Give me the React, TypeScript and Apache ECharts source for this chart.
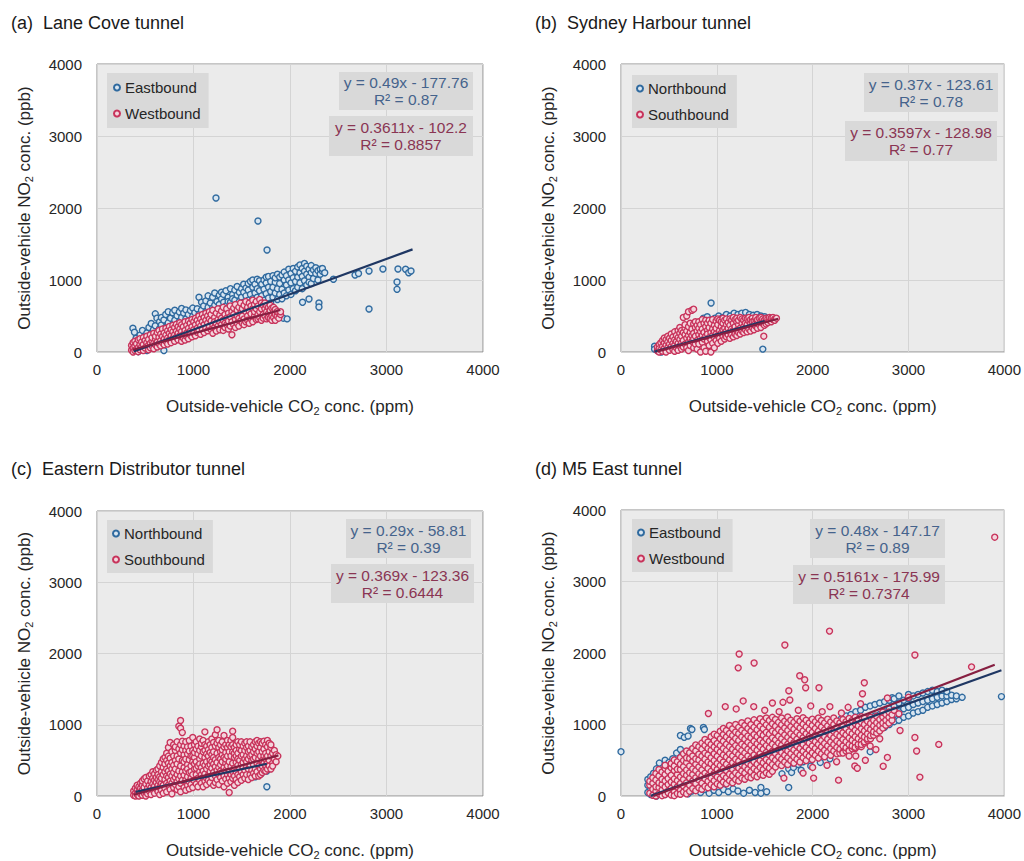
import React, { useEffect, useRef } from "react";
import * as echarts from "echarts";

const FONT = '"Liberation Sans", Arial, Helvetica, sans-serif';

// ---------- DATA : each row = [CO2 (ppm), NO2 (ppb), NO2 (ppb), ...] ----------
// (a) Lane Cove tunnel
const laneCoveEast: number[][] = [
  [372, 330, 25], [388, 275, 110], [405, 45, 190], [428, 140, 5], [446, 235, 70],
  [471, 160, 300, 35], [493, 95, 215], [517, 265, 140, 20], [538, 190, 340], [562, 110, 255, 395],
  [585, 60, 210, 310], [604, 530, 170, 365], [621, 470, 240, 95], [648, 325, 150, 420], [667, 205, 375, 480],
  [693, 270, 130, 445, 20], [712, 345, 520, 205], [738, 255, 405, 560], [761, 310, 470, 180], [784, 375, 245, 545],
  [806, 440, 300, 580], [829, 355, 505, 240], [853, 420, 290, 555], [877, 480, 345, 605], [898, 395, 540, 270],
  [921, 460, 330, 585], [946, 520, 380, 300], [968, 430, 575, 350], [992, 495, 610, 380], [1014, 545, 410, 330],
  [1038, 465, 600, 360], [1057, 760, 520, 420], [1083, 580, 455, 690], [1105, 640, 395, 520], [1128, 560, 710, 430],
  [1151, 620, 780, 470], [1174, 540, 680, 410], [1198, 760, 610, 480], [1220, 820, 650, 520], [1243, 700, 575, 440],
  [1267, 790, 660, 505], [1290, 735, 610, 830], [1312, 560, 690, 800], [1336, 640, 850, 510], [1359, 760, 590, 700],
  [1383, 880, 690, 540], [1405, 800, 610, 740], [1428, 720, 860, 580], [1452, 910, 650, 790], [1475, 830, 700, 560],
  [1498, 760, 880, 620], [1520, 940, 690, 830], [1544, 610, 780, 890], [1567, 860, 720, 950], [1590, 660, 800, 980],
  [1614, 900, 740, 1000], [1637, 820, 680, 940], [1660, 1010, 760, 880], [1684, 700, 850, 990], [1707, 940, 780, 640],
  [1730, 1000, 870, 720], [1753, 810, 960, 1040], [1777, 900, 750, 1050], [1800, 980, 680, 840], [1823, 1060, 900, 760],
  [1847, 820, 970, 1030], [1870, 1080, 880, 730], [1893, 950, 800, 1040], [1917, 1070, 870, 740], [1940, 1000, 820, 1110],
  [1963, 930, 780, 1060], [1987, 1150, 860, 1000], [2010, 960, 1090, 800], [2033, 1160, 880, 1030], [2057, 980, 1120, 850],
  [2080, 1180, 1040, 900], [2103, 960, 1100, 1210], [2127, 1050, 880, 1160], [2150, 1230, 990, 1120], [2173, 930, 1080, 1190],
  [2197, 1040, 1150, 970], [2220, 1100, 1200, 950], [2243, 1020, 1140], [2267, 1090, 1170], [2290, 1000, 1130],
  [2313, 1150, 1080], [2336, 1120, 1160], [2360, 1100],
  [1233, 2139], [1668, 1819], [1762, 1417], [2450, 1010], [2674, 1069], [2710, 1090], [2819, 1125], [2963, 1153],
  [3119, 1153], [3198, 1150], [3230, 1100], [3254, 1125], [3109, 972], [3109, 870], [2819, 597],
  [2300, 680], [2300, 625], [2197, 736], [2130, 690], [1930, 470], [1970, 460], [1900, 520],
];
const laneCoveWest: number[][] = [
  [358, 25, 90], [374, 130, 55, 0], [392, 80, 150, 20], [409, 40, 115], [427, 170, 60, 5],
  [445, 100, 30, 185], [462, 140, 70], [480, 20, 105, 200], [498, 160, 55], [516, 85, 220, 130],
  [534, 30, 175, 95], [552, 240, 120, 60], [570, 150, 200, 85], [588, 45, 260, 120], [606, 180, 100, 220],
  [624, 270, 70, 140], [642, 205, 115, 300], [660, 160, 250, 85], [678, 320, 130, 215], [696, 100, 265, 180],
  [714, 235, 150, 330], [732, 295, 110, 195], [750, 355, 170, 260], [768, 130, 225, 310], [786, 280, 190, 370],
  [804, 150, 340, 240], [822, 385, 205, 290], [840, 170, 260, 350], [858, 320, 225, 405], [876, 150, 285, 380],
  [894, 240, 350, 195], [912, 420, 300, 165], [930, 265, 370, 215], [948, 330, 185, 430], [966, 290, 400, 240],
  [984, 210, 350, 450], [1002, 310, 420, 260], [1020, 380, 225, 470], [1038, 330, 275, 440], [1056, 400, 300, 500],
  [1074, 245, 360, 460], [1092, 420, 310, 520], [1110, 270, 380, 480], [1128, 440, 330, 540], [1146, 295, 400, 500],
  [1164, 360, 560, 460], [1182, 310, 430, 520], [1200, 380, 260, 580], [1218, 480, 340, 420], [1236, 540, 290, 400],
  [1254, 450, 360, 600], [1272, 310, 510, 420], [1290, 570, 380, 470], [1308, 300, 440, 620], [1326, 520, 400, 340],
  [1344, 470, 600, 380], [1362, 320, 540, 430], [1380, 640, 490, 360], [1398, 240, 420, 560], [1416, 520, 610, 380],
  [1434, 450, 340, 660], [1452, 580, 400, 500], [1470, 620, 360, 470], [1488, 540, 680, 430], [1506, 400, 600, 500],
  [1524, 650, 460, 380], [1542, 560, 420, 700], [1560, 500, 620, 440], [1578, 680, 400, 570], [1596, 460, 530, 640],
  [1614, 720, 420, 600], [1632, 500, 660, 560], [1650, 450, 700, 600], [1668, 640, 520, 460], [1686, 560, 730, 480],
  [1704, 680, 600, 440], [1722, 520, 650, 470], [1740, 600, 680, 500], [1758, 460, 560, 640], [1776, 620, 530, 480],
  [1794, 580, 650, 470], [1812, 500, 610, 440], [1830, 560, 620, 480], [1848, 440, 520, 590], [1866, 500, 560],
  [1884, 470, 540], [1902, 520, 560],
];

// (b) Sydney Harbour tunnel
const harbourNorth: number[][] = [
  [350, 80, 40], [380, 20, 60], [420, 0, 100], [460, 30, 140], [500, 70, 180], [540, 40, 120, 220], [580, 90, 200],
  [620, 60, 150, 260], [660, 110, 230], [700, 80, 190, 300], [740, 140, 260], [780, 110, 220, 340],
  [820, 170, 290, 400], [860, 140, 250, 470], [900, 200, 320, 490], [940, 680, 240, 360, 440], [980, 220, 340, 470],
  [1020, 260, 380, 500], [1060, 240, 360, 480], [1100, 280, 400, 520], [1140, 260, 380, 500], [1180, 300, 420, 540],
  [1220, 280, 400, 520], [1260, 320, 440, 540], [1300, 300, 420, 550], [1340, 340, 460, 520], [1380, 320, 440, 510],
  [1420, 360, 470, 520], [1460, 380, 480, 500], [1480, 40], [1500, 420, 490],
];
const harbourSouth: number[][] = [
  [380, 15, 70], [398, 0, 100, 45], [416, 30, 130], [434, 80, 10, 160], [452, 50, 125, 195],
  [470, 0, 170, 95], [488, 60, 140, 220], [506, 25, 190, 110], [524, 250, 75, 160], [542, 35, 210, 120],
  [560, 280, 95, 170, 10], [578, 230, 60, 145], [596, 300, 120, 200, 25], [614, 175, 260, 85, 340],
  [632, 40, 220, 130, 300], [650, 480, 160, 270, 70], [668, 330, 110, 240, 380], [686, 500, 190, 60, 290],
  [704, 560, 140, 350, 230, 20], [722, 400, 90, 270, 185], [740, 580, 320, 150, 230], [758, 595, 60, 260, 390, 180],
  [776, 110, 340, 220, 420], [794, 290, 160, 370, 40], [812, 420, 240, 110, 330], [830, 0, 190, 380, 280],
  [848, 450, 135, 320, 230], [866, 60, 270, 400, 180], [884, 350, 220, 440, 10], [902, 150, 300, 400, 250],
  [920, 440, 90, 340, 200], [938, 270, 400, 0, 170], [956, 120, 320, 450, 230], [974, 370, 200, 280, 60],
  [992, 430, 160, 330, 250], [1010, 230, 380, 120, 460], [1028, 300, 440, 190], [1046, 150, 350, 260, 420],
  [1064, 400, 220, 310, 470], [1082, 180, 330, 440, 260], [1100, 380, 290, 460, 210], [1118, 240, 410, 330],
  [1136, 460, 280, 190, 370], [1154, 320, 440, 240], [1172, 400, 300, 480, 210], [1190, 350, 250, 450],
  [1208, 420, 300, 470, 230], [1226, 270, 380, 440], [1244, 480, 330, 250], [1262, 400, 290, 460],
  [1280, 350, 440, 270], [1298, 470, 310, 400], [1316, 380, 280, 460], [1334, 320, 430, 480], [1352, 400, 290, 450],
  [1370, 470, 340, 420], [1388, 310, 430, 380], [1406, 460, 360, 480], [1424, 400, 330, 450], [1442, 470, 380],
  [1460, 340, 430, 480], [1478, 400, 460], [1490, 220], [1496, 370, 440], [1514, 430, 470, 390], [1532, 460, 410],
  [1550, 440, 480], [1568, 420, 470], [1586, 450, 480], [1604, 460, 440], [1622, 470],
];

// (c) Eastern Distributor tunnel
const distributorNorth: number[][] = [
  [400, 20, 80], [450, 50, 120], [500, 30, 100, 180], [550, 250, 80, 160], [600, 60, 140, 220], [650, 100, 180, 280],
  [690, 470, 430, 120, 220], [740, 150, 260], [800, 130, 240, 340], [860, 170, 280], [920, 150, 260, 360],
  [980, 190, 300], [1040, 170, 280, 380], [1100, 210, 320], [1160, 190, 300, 400], [1220, 230, 340],
  [1280, 210, 320, 420], [1340, 250, 360], [1400, 230, 340, 440], [1460, 270, 380], [1520, 250, 360, 460],
  [1580, 290, 400], [1640, 270, 380, 470], [1700, 310, 420], [1760, 130, 350],
];
const distributorSouth: number[][] = [
  [380, 10, 70], [398, 40, 110, 0], [416, 90, 20, 150], [434, 60, 130, 0], [452, 180, 30, 110],
  [470, 80, 150, 210, 10], [488, 40, 120, 240], [506, 170, 60, 260, 0], [524, 110, 210, 30], [542, 280, 150, 70],
  [560, 20, 200, 120, 300], [578, 250, 90, 170, 340], [596, 40, 140, 310, 220], [614, 360, 100, 260, 190],
  [632, 60, 230, 150, 380, 300], [650, 120, 420, 270, 200, 20], [668, 340, 80, 180, 470, 250],
  [686, 520, 150, 300, 400, 40], [704, 230, 110, 450, 340, 540], [722, 60, 380, 180, 280, 500, 600],
  [740, 260, 150, 460, 350, 560, 680], [758, 90, 420, 210, 310, 530, 750], [776, 620, 180, 380, 280, 470, 30],
  [794, 720, 120, 330, 230, 430, 560], [812, 260, 640, 160, 500, 380, 690], [830, 90, 450, 300, 560, 200, 760],
  [848, 980, 350, 130, 660, 240, 520], [866, 1060, 950, 420, 280, 600, 180, 720, 60], [884, 890, 340, 500, 220, 650, 770],
  [902, 120, 580, 400, 290, 700, 480], [920, 760, 220, 520, 350, 640, 80], [938, 440, 150, 590, 270, 690, 380],
  [956, 330, 630, 200, 510, 780, 100], [974, 560, 250, 420, 700, 160, 340], [992, 640, 300, 480, 120, 820, 560],
  [1010, 380, 720, 210, 540, 450, 610], [1028, 170, 480, 660, 300, 760, 390], [1046, 590, 250, 420, 700, 130],
  [1064, 340, 520, 800, 450, 220, 640], [1082, 690, 180, 400, 560, 300, 740], [1100, 460, 620, 260, 350, 780, 130],
  [1118, 540, 310, 720, 210, 430, 640, 900], [1136, 380, 590, 250, 480, 700, 160], [1154, 650, 290, 420, 560, 760, 220],
  [1172, 340, 500, 190, 720, 610, 440], [1190, 580, 260, 390, 800, 480, 680], [1208, 150, 450, 620, 330, 750, 540],
  [1226, 700, 280, 510, 410, 860, 190], [1244, 930, 360, 600, 230, 470, 740], [1262, 540, 160, 680, 400, 300, 780],
  [1280, 440, 620, 260, 720, 350, 520], [1298, 210, 580, 480, 760, 330, 650], [1316, 850, 400, 280, 540, 690, 130],
  [1334, 610, 360, 460, 240, 720, 520], [1352, 300, 560, 680, 420, 180, 780], [1370, 50, 480, 340, 620, 720, 250],
  [1388, 560, 410, 300, 690, 200, 780], [1406, 910, 820, 460, 620, 340, 250, 720], [1424, 150, 540, 390, 680, 280, 600],
  [1442, 470, 720, 340, 560, 230, 640], [1460, 600, 300, 430, 760, 520, 190], [1478, 380, 660, 270, 500, 720],
  [1496, 560, 220, 440, 640, 340, 760], [1514, 470, 300, 700, 580, 400], [1532, 640, 250, 520, 360, 740],
  [1550, 420, 680, 300, 560, 480, 760], [1568, 230, 620, 380, 700, 520], [1586, 560, 300, 440, 760, 640],
  [1604, 360, 500, 690, 260, 580], [1622, 720, 440, 620, 320, 520], [1640, 540, 380, 760, 280, 660],
  [1658, 460, 700, 340, 600, 780], [1676, 620, 280, 520, 420, 740], [1694, 380, 680, 560, 300, 760],
  [1712, 500, 740, 420, 620, 330], [1730, 660, 360, 560, 770, 460], [1748, 430, 600, 720, 350, 520],
  [1766, 560, 380, 690, 780, 460], [1784, 740, 500, 620, 420], [1802, 380, 680, 560, 720], [1820, 460, 420, 600],
  [1838, 520, 640], [1856, 480, 580], [1874, 560],
];

// (d) M5 East tunnel
const m5East: number[][] = [
  [0, 620], [280, 50, 150, 230], [310, 20, 100, 270], [340, 60, 180, 320], [370, 0, 120, 240, 380],
  [400, 40, 160, 300, 460], [430, 80, 200, 350], [460, 20, 140, 260, 410, 500], [500, 60, 180, 320, 470],
  [540, 100, 230, 370, 520], [580, 40, 160, 290, 430, 600], [620, 80, 210, 350, 490, 650, 847],
  [660, 120, 250, 400, 550, 820], [700, 30, 160, 300, 450, 600, 840], [725, 944], [740, 70, 200, 340, 490, 650, 930],
  [780, 110, 250, 390, 540, 700], [830, 50, 180, 320, 460, 620], [860, 958], [870, 90, 230, 380, 520, 930],
  [920, 40, 140, 280, 430, 580], [970, 80, 190, 330, 480], [1020, 50, 240, 380, 530, 780], [1070, 90, 200, 340, 490],
  [1120, 60, 250, 400, 550], [1170, 100, 300, 450, 600], [1220, 70, 260, 410], [1280, 40, 320, 470, 640],
  [1340, 80, 360, 520], [1400, 50, 400, 560], [1460, 40, 120, 440, 600], [1520, 60, 480, 640, 960],
  [1580, 520, 680, 980], [1640, 560, 720, 1000], [1680, 310, 450], [1700, 600, 760, 1020], [1750, 120, 380, 640, 800],
  [1780, 330, 520], [1800, 400, 460, 680, 840], [1850, 440, 520, 720], [1880, 360, 600], [1900, 480, 560, 760],
  [1950, 520, 600, 800], [1980, 420, 700], [2000, 540, 640, 840], [2050, 560, 680, 880], [2080, 470, 610],
  [2100, 580, 720, 920], [2150, 600, 760, 960], [2180, 520, 650], [2200, 620, 800, 1000],
  [2250, 700, 840, 1040], [2300, 740, 880, 1080], [2350, 780, 920, 1120], [2400, 820, 960, 1140],
  [2450, 860, 1000, 1180], [2500, 880, 1040, 1200], [2550, 920, 1080, 1240], [2600, 620, 960, 1100, 1260],
  [2650, 980, 1120, 1280], [2700, 1000, 1140, 1300], [2750, 960, 1060, 1180, 1320], [2800, 1000, 1100, 1220, 1340],
  [2830, 1375], [2850, 1040, 1140, 1260, 1360], [2900, 1060, 1180, 1300, 1400], [2950, 1100, 1220, 1340],
  [3000, 1120, 1240, 1360, 1420], [3050, 1160, 1280, 1400], [3100, 1180, 1300, 1420], [3150, 1200, 1320, 1440],
  [3200, 1240, 1340, 1460], [3250, 1260, 1360, 1480], [3300, 1280, 1380, 1460], [3350, 1300, 1400, 1480],
  [3400, 1320, 1400, 1460], [3450, 1350, 1410], [3500, 1360, 1400], [3560, 1380], [3970, 1390],
];
const m5West: number[][] = [
  [300, 40, 150, 205], [332, 10, 95, 180, 255], [364, 65, 0, 130, 225, 315], [396, 30, 120, 185, 280, 370],
  [428, 85, 5, 160, 235, 335], [460, 20, 125, 210, 300, 385, 430], [492, 70, 160, 45, 245, 345],
  [524, 110, 195, 15, 290, 395, 455], [556, 55, 165, 240, 355, 420, 505, 5], [588, 125, 215, 35, 300, 375, 480],
  [620, 80, 175, 265, 370, 445, 540, 25], [652, 140, 230, 55, 315, 410, 495, 590],
  [684, 95, 185, 290, 365, 470, 535, 30, 630], [716, 150, 250, 325, 65, 420, 525, 605],
  [748, 105, 210, 300, 380, 485, 560, 665], [780, 175, 255, 355, 75, 445, 520, 630, 715],
  [812, 115, 225, 310, 405, 505, 585, 690], [844, 180, 280, 95, 365, 460, 555, 655, 740],
  [876, 135, 240, 320, 425, 515, 600, 705, 790], [908, 205, 285, 385, 115, 475, 575, 665, 755],
  [940, 160, 250, 345, 450, 535, 640, 720, 830], [972, 215, 315, 405, 130, 495, 590, 685, 775, 865],
  [1004, 170, 265, 370, 455, 555, 650, 735, 845], [1036, 240, 335, 150, 425, 515, 615, 705, 800, 905],
  [1068, 195, 285, 385, 475, 575, 665, 765, 860, 945], [1100, 255, 355, 170, 445, 545, 635, 725, 825, 915],
  [1132, 215, 305, 400, 505, 590, 690, 785, 875, 985], [1164, 280, 375, 185, 465, 560, 655, 755, 845, 940],
  [1196, 230, 325, 425, 515, 615, 705, 805, 895, 1000], [1228, 295, 390, 210, 485, 580, 675, 775, 870, 960],
  [1260, 250, 350, 440, 545, 635, 725, 825, 920, 1025], [1292, 320, 410, 235, 505, 600, 695, 795, 885, 985],
  [1324, 270, 370, 460, 560, 655, 750, 840, 945, 1050], [1356, 340, 430, 255, 525, 625, 715, 815, 905, 1000],
  [1388, 290, 385, 480, 575, 670, 765, 860, 960, 1065], [1420, 355, 445, 270, 540, 640, 730, 830, 925, 1020],
  [1452, 305, 400, 495, 590, 690, 780, 875, 975, 1080], [1484, 370, 465, 290, 560, 655, 750, 850, 940, 1040],
  [1516, 325, 420, 510, 610, 705, 800, 890, 995, 1090], [1548, 390, 480, 305, 575, 675, 765, 865, 960, 1055],
  [1580, 345, 440, 535, 625, 725, 815, 910, 1010, 1100], [1612, 405, 500, 595, 690, 785, 885, 975, 1070],
  [1644, 455, 550, 645, 740, 835, 930, 1030], [1676, 425, 515, 610, 710, 800, 900, 995, 1090],
  [1708, 475, 570, 665, 760, 855, 950, 1045], [1740, 440, 535, 630, 725, 820, 915, 1015, 1105],
  [1772, 495, 590, 680, 780, 870, 970, 1060], [1804, 460, 550, 645, 745, 840, 935, 1030],
  [1836, 515, 605, 700, 795, 890, 985, 1080], [1868, 475, 570, 665, 760, 855, 950, 1045],
  [1900, 535, 625, 720, 815, 910, 1005, 1095], [1932, 495, 585, 680, 780, 870, 965, 1060],
  [1964, 555, 645, 740, 835, 925, 1020], [1996, 510, 605, 700, 795, 890, 985, 1075],
  [2028, 570, 665, 760, 850, 945, 1040], [2060, 530, 625, 720, 815, 905, 1000, 1090],
  [2092, 590, 685, 775, 870, 965, 1055], [2124, 550, 640, 735, 830, 925, 1020],
  [2156, 610, 700, 795, 890, 980, 1075], [2188, 570, 660, 755, 850, 940, 1035],
  [2220, 630, 720, 815, 905, 1000, 1090], [2252, 590, 680, 770, 865, 960, 1050],
  [2284, 600, 655, 740, 835, 925, 1020], [2316, 615, 700, 600, 790, 885, 975, 1070],
  [2348, 630, 675, 760, 855, 945, 1040], [2380, 640, 720, 630, 810, 900, 995, 1085],
  [2412, 660, 700, 780, 870, 965, 1055], [2444, 665, 745, 680, 830, 920, 1010, 1100],
  [2476, 700, 725, 800, 890, 980, 1070], [2508, 690, 765, 720, 850, 940, 1030, 1110],
  [2540, 740, 760, 825, 910, 1000, 1090], [2572, 780, 800, 870, 955, 1045], [2604, 800, 845, 930, 1015, 1100],
  [2636, 850, 900, 980, 1060], [2668, 880, 945, 1025, 1115], [2700, 910, 990, 1070], [2732, 950, 1020, 1105, 1170],
  [2764, 990, 1060, 1140], [2796, 1020, 1100, 1175], [2828, 1060, 1135],
  [912, 1153], [1088, 1250], [1202, 1218], [1223, 1792], [1233, 1986], [1275, 1330], [1385, 1250], [1389, 1861],
  [1500, 1200], [1580, 1300], [1650, 1180], [1690, 1310], [1700, 250], [1710, 2111], [1751, 1472], [1762, 1342],
  [1850, 1200], [1865, 1681], [1900, 320], [1917, 1625], [1927, 1514], [1980, 1260], [2000, 400], [2010, 250],
  [2066, 1514], [2100, 1180], [2150, 430], [2176, 2306], [2180, 1250], [2250, 480], [2270, 222], [2300, 1160],
  [2370, 1240], [2380, 560], [2440, 420], [2450, 560], [2466, 389], [2500, 1290], [2520, 1430], [2539, 1583],
  [2550, 500], [2600, 700], [2660, 650], [2700, 800], [2736, 417], [2780, 540], [2780, 1370], [2850, 1200],
  [2900, 1150], [2912, 917], [3000, 1380], [3067, 819, 1972], [3085, 630], [3119, 264], [3316, 722],
  [3658, 1806], [3900, 3620],
];

// trend-line end points (x, y)
const laneCoveEastTrend = [[380, 8], [3270, 1425]];
const laneCoveWestTrend = [[370, 32], [1900, 584]];
const harbourNorthTrend = [[350, 6], [1500, 431]];
const harbourSouthTrend = [[380, 8], [1640, 461]];
const distributorNorthTrend = [[400, 57], [1760, 452]];
const distributorSouthTrend = [[380, 17], [1880, 570]];
const m5EastTrend = [[310, 2], [3970, 1758]];
const m5WestTrend = [[340, 0], [3900, 1837]];

const panelTitles = [
  "(a)  Lane Cove tunnel",
  "(b)  Sydney Harbour tunnel",
  "(c)  Eastern Distributor tunnel",
  "(d) M5 East tunnel",
];
const directionNames = [
  ["Eastbound", "Westbound"],
  ["Northbound", "Southbound"],
  ["Northbound", "Southbound"],
  ["Eastbound", "Westbound"],
];
const equationTexts = [
  [["y = 0.49x - 177.76", "R² = 0.87"], ["y = 0.3611x - 102.2", "R² = 0.8857"]],
  [["y = 0.37x - 123.61", "R² = 0.78"], ["y = 0.3597x - 128.98", "R² = 0.77"]],
  [["y = 0.29x - 58.81", "R² = 0.39"], ["y = 0.369x - 123.36", "R² = 0.6444"]],
  [["y = 0.48x - 147.17", "R² = 0.89"], ["y = 0.5161x - 175.99", "R² = 0.7374"]],
];
const scatterRows = [
  [laneCoveEast, laneCoveWest],
  [harbourNorth, harbourSouth],
  [distributorNorth, distributorSouth],
  [m5East, m5West],
];
const trendRows = [
  [laneCoveEastTrend, laneCoveWestTrend],
  [harbourNorthTrend, harbourSouthTrend],
  [distributorNorthTrend, distributorSouthTrend],
  [m5EastTrend, m5WestTrend],
];
const AXIS_MIN = 0;
const AXIS_MAX = 4000;
const AXIS_STEP = 1000;
const X_NAME = "Outside-vehicle CO{s|2} conc. (ppm)";
const Y_NAME = "Outside-vehicle NO{s|2} conc. (ppb)";

// ---------- LAYOUT / STYLE ----------
const layout = [
  { gx: 97, gy: 64, tx: 11, ty: 23, lg: [107, 73], lp: [6, 8, 6, 6], eq: [[339, 72, 134, 38], [329, 116, 144, 40]] },
  { gx: 621, gy: 64, tx: 535, ty: 23, lg: [632, 75], lp: [5, 8, 5, 4], eq: [[864, 73, 134, 39], [845, 121, 152, 40]] },
  { gx: 97, gy: 511, tx: 11, ty: 469, lg: [107, 520], lp: [5, 8, 5, 5], eq: [[346, 519, 125, 39], [331, 564, 143, 39]] },
  { gx: 621, gy: 510, tx: 535, ty: 469, lg: [632, 519], lp: [5, 8, 5, 5], eq: [[810, 519, 135, 39], [793, 565, 152, 39]] },
];
const GW = 386;
const GH = 288;
const MARK = [
  { fill: "#d8e5f0", edge: "#2f6a9f", line: "#1f3763", text: "#45638c" },
  { fill: "#f3d5dd", edge: "#c8335b", line: "#861f41", text: "#8a3553" },
];

function expand(rows: number[][]) {
  const out: number[][] = [];
  rows.forEach((r) => {
    for (let i = 1; i < r.length; i++) out.push([r[0], r[i]]);
  });
  return out;
}

function buildOption() {
  const grid: any[] = [];
  const xAxis: any[] = [];
  const yAxis: any[] = [];
  const series: any[] = [];
  const legend: any[] = [];
  const graphic: any[] = [];
  const labelStyle = { fontFamily: FONT, fontSize: 15, color: "#262626", formatter: (v: number) => String(v) };
  const nameStyle = {
    fontFamily: FONT,
    fontSize: 17,
    color: "#262626",
    lineHeight: 20,
    rich: { s: { fontFamily: FONT, fontSize: 11, lineHeight: 9, verticalAlign: "bottom", color: "#262626" } },
  };

  layout.forEach((L, i) => {
    grid.push({
      left: L.gx, top: L.gy, width: GW, height: GH, show: true,
      backgroundColor: "#ebebeb", borderColor: "#8c8c8c", borderWidth: 1,
    });
    xAxis.push({
      gridIndex: i, type: "value", min: AXIS_MIN, max: AXIS_MAX, interval: AXIS_STEP,
      axisLine: { show: false }, axisTick: { show: false },
      splitLine: { lineStyle: { color: "#d4d4d4", width: 1 } },
      axisLabel: { ...labelStyle, margin: 10 },
      name: X_NAME, nameLocation: "middle", nameGap: 44, nameTextStyle: nameStyle,
    });
    yAxis.push({
      gridIndex: i, type: "value", min: AXIS_MIN, max: AXIS_MAX, interval: AXIS_STEP,
      axisLine: { show: false }, axisTick: { show: false },
      splitLine: { lineStyle: { color: "#d4d4d4", width: 1 } },
      axisLabel: { ...labelStyle, margin: 15 },
      name: Y_NAME, nameLocation: "middle", nameGap: 63, nameTextStyle: nameStyle,
    });
    [0, 1].forEach((k) => {
      series.push({
        type: "scatter", name: directionNames[i][k], xAxisIndex: i, yAxisIndex: i,
        data: expand(scatterRows[i][k]), symbol: "circle", symbolSize: 6, z: 2 + k,
        itemStyle: { color: MARK[k].fill, borderColor: MARK[k].edge, borderWidth: 1.4, opacity: 1 },
        silent: true,
      });
    });
    [0, 1].forEach((k) => {
      series.push({
        type: "line", name: directionNames[i][k] + " trend", xAxisIndex: i, yAxisIndex: i,
        data: trendRows[i][k], symbol: "none", showSymbol: false, z: 5 + k,
        lineStyle: { color: MARK[k].line, width: 2.2 }, silent: true,
      });
    });
    legend.push({
      left: L.lg[0], top: L.lg[1], orient: "vertical", backgroundColor: "#d9d9d9",
      padding: L.lp, itemGap: 9, itemWidth: 6, itemHeight: 6, icon: "circle",
      data: directionNames[i], selectedMode: false,
      textStyle: { fontFamily: FONT, fontSize: 15, color: "#262626", lineHeight: 17 },
    });
    graphic.push({
      type: "text", x: L.tx, y: L.ty, z: 100,
      style: { text: panelTitles[i], fill: "#1a1a1a", font: `18px ${FONT}`, verticalAlign: "middle", textVerticalAlign: "middle" },
    });
    [0, 1].forEach((k) => {
      const [bx, by, bw, bh] = L.eq[k];
      graphic.push({ type: "rect", z: 100, shape: { x: bx, y: by, width: bw, height: bh }, style: { fill: "#d9d9d9" } });
      graphic.push({
        type: "text", z: 101, x: bx + bw / 2, y: by + bh / 2,
        style: {
          text: equationTexts[i][k].join("\n"), fill: MARK[k].text, font: `15.5px ${FONT}`,
          align: "center", textAlign: "center", verticalAlign: "middle", textVerticalAlign: "middle", lineHeight: 17,
        },
      });
    });
  });

  return { animation: false, backgroundColor: "#ffffff", grid, xAxis, yAxis, series, legend, graphic };
}

export default function App() {
  const ref = useRef<HTMLDivElement>(null);
  useEffect(() => {
    const chart = echarts.init(ref.current as HTMLDivElement, null, { renderer: "svg" });
    chart.setOption(buildOption() as any);
    return () => chart.dispose();
  }, []);
  return <div ref={ref} style={{ position: "absolute", left: 0, top: 0, width: 1024, height: 861 }} />;
}
